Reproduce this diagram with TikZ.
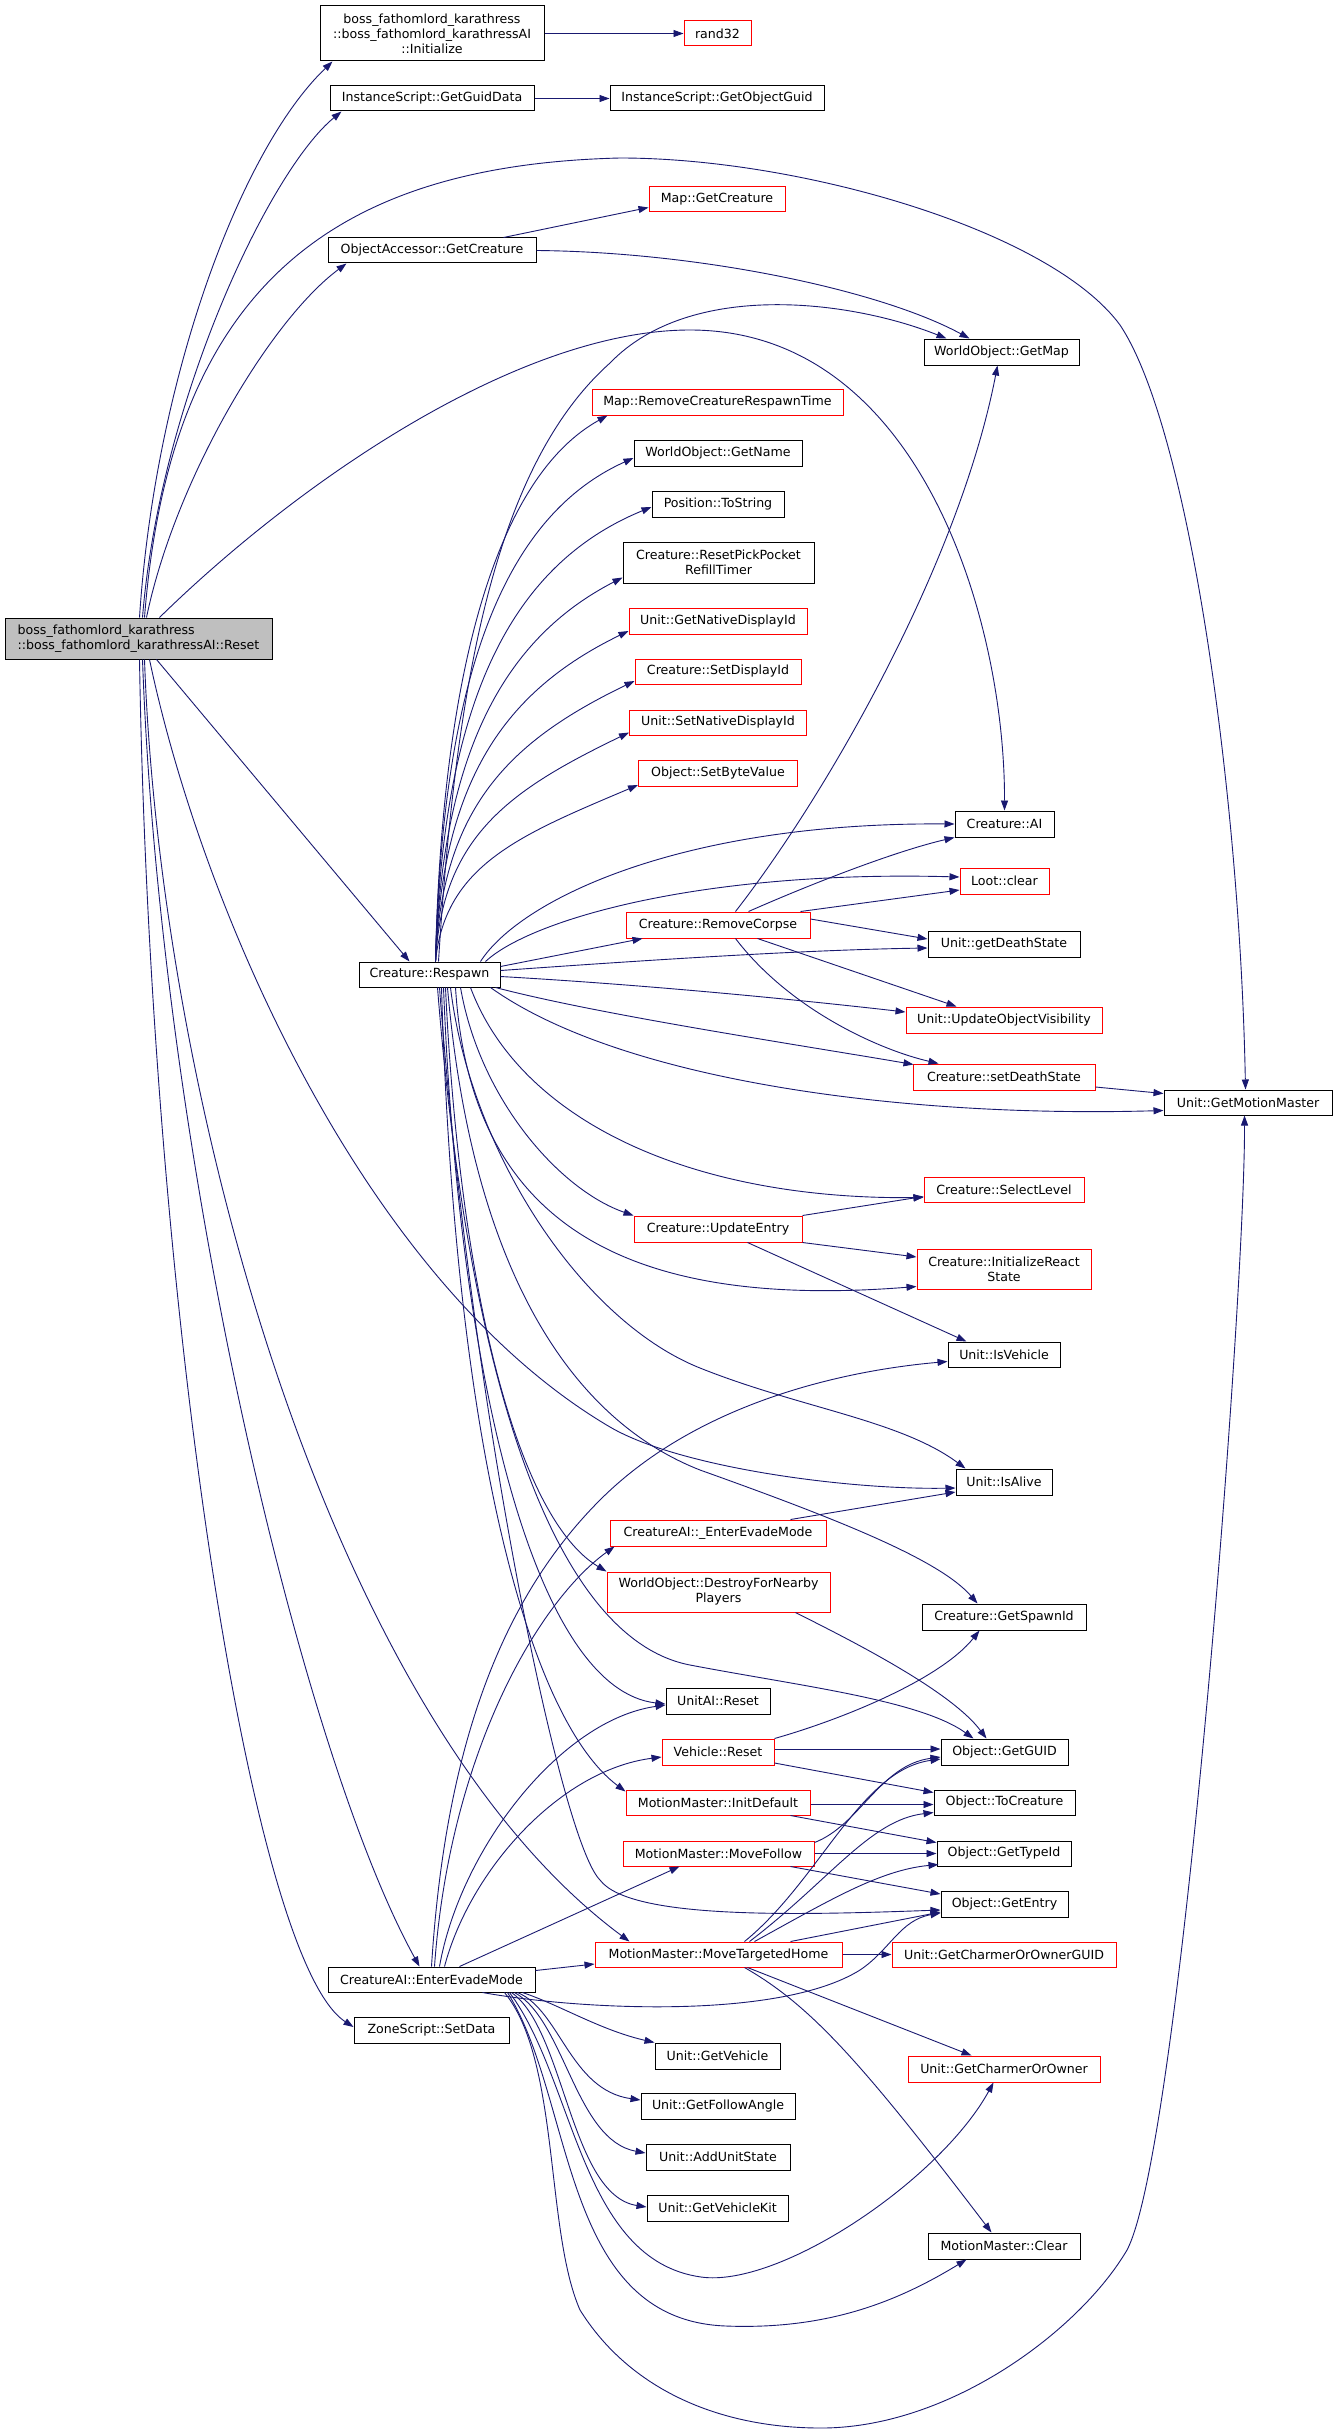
\documentclass[tikz,border=0pt]{standalone}
\usepackage{fontspec}
\newfontfamily\dvs{DejaVu Sans}
\usetikzlibrary{arrows.meta}
\definecolor{edgec}{RGB}{25,25,112}
\definecolor{greyfill}{RGB}{191,191,191}
\newcommand\nf{\dvs\fontsize{12.6pt}{15pt}\selectfont}
\tikzset{
  bx/.style={draw=black, fill=white, line width=1pt, inner sep=1pt, font=\nf, align=center},
  rbx/.style={bx, draw=red},
  gbx/.style={bx, fill=greyfill},
  ed/.style={draw=edgec, line width=0.9pt, -{Triangle[length=10pt,width=7pt]}},
  sz/.style 2 args={minimum width=#1pt, minimum height=#2pt}
}
\begin{document}
\begin{tikzpicture}[x=1pt,y=-1pt]
\fill[white] (0,0) rectangle (1333,2432);
\useasboundingbox (0,0) rectangle (1333,2432);
% nodes
\node[gbx, sz={267}{41}, align=left] (reset) at (138.5,638.5) {boss\_fathomlord\_karathress\\::boss\_fathomlord\_karathressAI::Reset};
\node[bx, sz={224}{55}] (init) at (432,33.5) {boss\_fathomlord\_karathress\\::boss\_fathomlord\_karathressAI\\::Initialize};
\node[rbx, sz={67}{25}] (rand32) at (717.5,33.5) {rand32};
\node[bx, sz={204}{25}] (guiddata) at (432,98.5) {InstanceScript::GetGuidData};
\node[bx, sz={214}{25}] (objguid) at (717,98.5) {InstanceScript::GetObjectGuid};
\node[rbx, sz={136}{25}] (mapgetcreature) at (717,199.5) {Map::GetCreature};
\node[bx, sz={208}{25}] (oagetcreature) at (432,250.5) {ObjectAccessor::GetCreature};
\node[bx, sz={155}{26}] (getmap) at (1001.5,352) {WorldObject::GetMap};
\node[rbx, sz={251}{26}] (removerespawn) at (717.5,402) {Map::RemoveCreatureRespawnTime};
\node[bx, sz={168}{26}] (getname) at (718,453) {WorldObject::GetName};
\node[bx, sz={132}{26}] (tostring) at (718,504) {Position::ToString};
\node[bx, sz={191}{41}] (pickpocket) at (718.5,562.5) {Creature::ResetPickPocket\\RefillTimer};
\node[rbx, sz={178}{26}] (getnative) at (718,621) {Unit::GetNativeDisplayId};
\node[rbx, sz={166}{25}] (setdisplay) at (718,671.5) {Creature::SetDisplayId};
\node[rbx, sz={177}{25}] (setnative) at (718,722.5) {Unit::SetNativeDisplayId};
\node[rbx, sz={159}{26}] (setbyte) at (718,773) {Object::SetByteValue};
\node[bx, sz={99}{26}] (creatureai) at (1004.5,824) {Creature::AI};
\node[rbx, sz={89}{26}] (lootclear) at (1004.5,881) {Loot::clear};
\node[rbx, sz={184}{26}] (removecorpse) at (718,925) {Creature::RemoveCorpse};
\node[bx, sz={152}{26}] (getdeathstate) at (1004,944) {Unit::getDeathState};
\node[bx, sz={141}{25}] (respawn) at (429.5,974.5) {Creature::Respawn};
\node[rbx, sz={196}{26}] (updatevis) at (1004,1020) {Unit::UpdateObjectVisibility};
\node[rbx, sz={182}{26}] (setdeathstate) at (1004,1077) {Creature::setDeathState};
\node[bx, sz={168}{25}] (getmotionmaster) at (1248,1102.5) {Unit::GetMotionMaster};
\node[rbx, sz={160}{25}] (selectlevel) at (1004,1189.5) {Creature::SelectLevel};
\node[rbx, sz={168}{26}] (updateentry) at (718,1229) {Creature::UpdateEntry};
\node[rbx, sz={174}{40}] (initreact) at (1004,1269) {Creature::InitializeReact\\State};
\node[bx, sz={112}{25}] (isvehicle) at (1004,1354.5) {Unit::IsVehicle};
\node[bx, sz={96}{26}] (isalive) at (1004,1482) {Unit::IsAlive};
\node[rbx, sz={216}{26}] (eevade) at (718,1533) {CreatureAI::\_EnterEvadeMode};
\node[rbx, sz={223}{40}] (destroy) at (718.5,1592) {WorldObject::DestroyForNearby\\Players};
\node[bx, sz={164}{26}] (getspawnid) at (1004,1617) {Creature::GetSpawnId};
\node[bx, sz={104}{26}] (unitaireset) at (718,1701) {UnitAI::Reset};
\node[rbx, sz={112}{26}] (vehiclereset) at (718,1752) {Vehicle::Reset};
\node[bx, sz={127}{26}] (getguid) at (1004.5,1752) {Object::GetGUID};
\node[rbx, sz={184}{25}] (initdefault) at (718,1802.5) {MotionMaster::InitDefault};
\node[bx, sz={141}{25}] (tocreature) at (1004.5,1802.5) {Object::ToCreature};
\node[rbx, sz={191}{25}] (movefollow) at (718.5,1853.5) {MotionMaster::MoveFollow};
\node[bx, sz={134}{25}] (gettypeid) at (1004,1853.5) {Object::GetTypeId};
\node[bx, sz={127}{26}] (getentry) at (1004.5,1904) {Object::GetEntry};
\node[rbx, sz={247}{25}] (movetargeted) at (718.5,1954.5) {MotionMaster::MoveTargetedHome};
\node[rbx, sz={224}{25}] (charmerguid) at (1004,1954.5) {Unit::GetCharmerOrOwnerGUID};
\node[bx, sz={207}{25}] (enterevade) at (431.5,1979.5) {CreatureAI::EnterEvadeMode};
\node[bx, sz={155}{26}] (setdata) at (431.5,2030) {ZoneScript::SetData};
\node[bx, sz={125}{26}] (getvehicle) at (717.5,2056) {Unit::GetVehicle};
\node[rbx, sz={192}{26}] (charmerowner) at (1004,2069) {Unit::GetCharmerOrOwner};
\node[bx, sz={154}{26}] (followangle) at (718,2106) {Unit::GetFollowAngle};
\node[bx, sz={144}{26}] (addunitstate) at (718,2157) {Unit::AddUnitState};
\node[bx, sz={141}{26}] (vehiclekit) at (717.5,2208) {Unit::GetVehicleKit};
\node[bx, sz={152}{26}] (clear) at (1004,2246) {MotionMaster::Clear};
% edges: top
\draw[ed] (init.east) -- (rand32.west);
\draw[ed] (guiddata.east) -- (objguid.west);
\draw[ed] ([xshift=176pt]oagetcreature.north west) -- ([yshift=5pt]mapgetcreature.south west);
\draw[ed] (oagetcreature.east) .. controls (700,252) and (880,290) .. ([xshift=46pt]getmap.north west);
% Reset
\draw[ed] ([xshift=135pt]reset.north west) .. controls (155,380) and (240,150) .. ([xshift=13pt]init.south west);
\draw[ed] ([xshift=138pt]reset.north west) .. controls (160,400) and (270,170) .. ([xshift=12pt]guiddata.south west);
\draw[ed] ([xshift=142pt]reset.north west) .. controls (175,480) and (270,320) .. ([xshift=19pt]oagetcreature.south west);
\draw[ed] ([xshift=140pt]reset.north west) .. controls (170,290) and (330,165) .. (620,158) .. controls (800,158) and (1050,230) .. (1120,325) .. controls (1190,430) and (1240,800) .. ([xshift=82pt]getmotionmaster.north west);
\draw[ed] ([xshift=155pt]reset.north west) .. controls (300,480) and (520,330) .. (690,330) .. controls (920,330) and (1005,620) .. (creatureai.north);
\draw[ed] ([xshift=152pt]reset.south west) -- ([xshift=51pt]respawn.north west);
\draw[ed] ([xshift=145pt]reset.south west) .. controls (200,900) and (360,1280) .. (610,1427) .. controls (680,1468) and (850,1490) .. ([yshift=-6pt]isalive.west);
\draw[ed] ([xshift=140pt]reset.south west) .. controls (160,1100) and (330,1720) .. ([xshift=35pt]movetargeted.north west);
\draw[ed] ([xshift=138pt]reset.south west) .. controls (160,1150) and (300,1750) .. ([xshift=92pt]enterevade.north west);
\draw[ed] ([xshift=135pt]reset.south west) .. controls (150,1300) and (250,1960) .. ([yshift=3pt]setdata.west);
% Respawn fan up
\draw[ed] ([xshift=77pt]respawn.north west) .. controls (442,661) and (500,475) .. ([xshift=16pt]removerespawn.south west);
\draw[ed] ([xshift=77pt]respawn.north west) .. controls (442,685) and (500,518) .. ([yshift=-5pt]getname.west);
\draw[ed] ([xshift=77pt]respawn.north west) .. controls (442,712) and (505,567) .. ([yshift=-3pt]tostring.west);
\draw[ed] ([xshift=77pt]respawn.north west) .. controls (442,751) and (505,638) .. ([yshift=-15pt]pickpocket.west);
\draw[ed] ([xshift=77pt]respawn.north west) .. controls (442,780) and (505,691) .. ([yshift=-10pt]getnative.west);
\draw[ed] ([xshift=77pt]respawn.north west) .. controls (442,807) and (510,741) .. ([yshift=-9.5pt]setdisplay.west);
\draw[ed] ([xshift=77pt]respawn.north west) .. controls (442,836) and (510,790) .. ([yshift=-10pt]setnative.west);
\draw[ed] ([xshift=77pt]respawn.north west) .. controls (445,865) and (520,835) .. ([yshift=-12pt]setbyte.west);
\draw[ed] ([xshift=80pt]respawn.north west) .. controls (455,700) and (490,470) .. (610,363) .. controls (690,280) and (850,300) .. ([xshift=23pt]getmap.north west);
% Respawn right side
\draw[ed] ([xshift=-20pt]respawn.north east) .. controls (520,900) and (680,822) .. (creatureai.west);
\draw[ed] ([xshift=-15pt]respawn.north east) .. controls (530,920) and (700,870) .. ([yshift=4pt]lootclear.west);
\draw[ed] ([yshift=8pt]respawn.east) -- ([xshift=17pt]removecorpse.south west);
\draw[ed] ([yshift=4pt]respawn.east) .. controls (650,960) and (800,950) .. ([yshift=-4pt]getdeathstate.west);
\draw[ed] ([yshift=-2pt]respawn.east) .. controls (650,985) and (800,1000) .. ([yshift=8pt]updatevis.west);
\draw[ed] ([xshift=-5pt]respawn.south east) .. controls (600,1015) and (800,1045) .. ([xshift=1pt,yshift=-1pt]setdeathstate.north west);
\draw[ed] ([xshift=-10pt]respawn.south east) .. controls (620,1080) and (900,1118) .. ([yshift=-8pt]getmotionmaster.west);
\draw[ed] ([xshift=-30pt]respawn.south east) .. controls (520,1120) and (690,1200) .. ([yshift=-8pt]selectlevel.west);
\draw[ed] ([xshift=-40pt]respawn.south east) .. controls (480,1100) and (560,1190) .. (updateentry.north west);
\draw[ed] ([xshift=-45pt]respawn.south east) .. controls (470,1220) and (620,1310) .. ([yshift=3pt]initreact.south west);
\draw[ed] ([xshift=-50pt]respawn.south east) .. controls (470,1150) and (580,1320) .. (700,1368) .. controls (800,1408) and (900,1420) .. ([xshift=10pt]isalive.north west);
\draw[ed] ([xshift=-53pt]respawn.south east) .. controls (470,1250) and (560,1415) .. (700,1470) .. controls (840,1520) and (940,1560) .. ([xshift=56pt]getspawnid.north west);
\draw[ed] ([xshift=-55pt]respawn.south east) .. controls (460,1300) and (520,1520) .. (destroy.north west);
\draw[ed] ([xshift=-57pt]respawn.south east) .. controls (460,1400) and (540,1690) .. ([yshift=-3pt]unitaireset.west);
\draw[ed] ([xshift=-59pt]respawn.south east) .. controls (455,1450) and (530,1720) .. ([yshift=-2pt]initdefault.north west);
\draw[ed] ([xshift=-61pt]respawn.south east) .. controls (470,1400) and (560,1840) .. (600,1880) .. controls (630,1920) and (800,1915) .. ([yshift=-6pt]getentry.west);
\draw[ed] ([xshift=-63pt]respawn.south east) .. controls (470,1400) and (560,1640) .. (690,1665) .. controls (800,1686) and (920,1700) .. ([xshift=33pt]getguid.north west);
% RemoveCorpse
\draw[ed] ([xshift=110pt]removecorpse.north west) .. controls (830,790) and (960,560) .. ([xshift=74pt]getmap.south west);
\draw[ed] ([xshift=123pt]removecorpse.north west) .. controls (820,880) and (900,850) .. (creatureai.south west);
\draw[ed] ([xshift=175pt]removecorpse.north west) -- ([yshift=-9pt]lootclear.west);
\draw[ed] ([yshift=6pt]removecorpse.east) -- ([yshift=5pt]getdeathstate.west);
\draw[ed] ([xshift=132pt]removecorpse.south west) -- ([xshift=51pt]updatevis.north west);
\draw[ed] ([xshift=110pt]removecorpse.south west) .. controls (790,1010) and (880,1050) .. ([xshift=26pt]setdeathstate.north west);
\draw[ed] ([yshift=-10pt]setdeathstate.east) -- ([yshift=9pt]getmotionmaster.west);
% UpdateEntry
\draw[ed] (updateentry.north east) -- ([yshift=-7pt]selectlevel.west);
\draw[ed] (updateentry.south east) -- ([yshift=12pt]initreact.west);
\draw[ed] ([xshift=114pt]updateentry.south west) -- ([xshift=19pt]isvehicle.north west);
% misc
\draw[ed] ([xshift=181pt]eevade.north west) -- ([yshift=-10pt]isalive.west);
\draw[ed] ([xshift=189pt]destroy.south west) .. controls (850,1640) and (950,1690) .. ([xshift=46pt]getguid.north west);
\draw[ed] ([yshift=3pt]vehiclereset.east) -- ([yshift=3pt]getguid.west);
\draw[ed] (vehiclereset.north east) .. controls (840,1720) and (940,1680) .. ([xshift=58pt]getspawnid.south west);
\draw[ed] ([yshift=-11pt]vehiclereset.east) -- ([yshift=10pt]tocreature.west);
\draw[ed] ([yshift=-2pt]initdefault.east) -- ([yshift=-2pt]tocreature.west);
\draw[ed] ([xshift=165pt]initdefault.south west) -- ([yshift=11pt]gettypeid.west);
\draw[ed] (movefollow.east) -- (gettypeid.west);
\draw[ed] ([xshift=168pt]movefollow.south west) -- ([yshift=10pt]getentry.west);
\draw[ed] ([yshift=11pt]movefollow.east) .. controls (860,1825) and (880,1765) .. ([yshift=-5pt]getguid.west);
% MoveTargetedHome
\draw[ed] (movetargeted.east) -- (charmerguid.west);
\draw[ed] ([xshift=153pt]movetargeted.south west) -- ([xshift=64pt]charmerowner.north west);
\draw[ed] ([xshift=150pt]movetargeted.south west) .. controls (810,2005) and (860,2060) .. ([xshift=64pt]clear.north west);
\draw[ed] ([xshift=150pt]movetargeted.north west) .. controls (820,1880) and (860,1770) .. ([yshift=-7pt]getguid.west);
\draw[ed] ([xshift=155pt]movetargeted.north west) .. controls (830,1880) and (870,1820) .. ([yshift=-10pt]tocreature.west);
\draw[ed] ([xshift=160pt]movetargeted.north west) .. controls (830,1900) and (880,1870) .. ([xshift=2pt,yshift=2pt]gettypeid.south west);
\draw[ed] ([xshift=196pt]movetargeted.north west) -- ([yshift=-8pt]getentry.west);
% EnterEvadeMode
\draw[ed] ([xshift=107pt]enterevade.north west) .. controls (450,1750) and (540,1600) .. ([xshift=5pt]eevade.south west);
\draw[ed] ([xshift=104pt]enterevade.north west) .. controls (445,1750) and (500,1600) .. (600,1500) .. controls (700,1400) and (850,1370) .. ([yshift=-7pt]isvehicle.west);
\draw[ed] ([xshift=112pt]enterevade.north west) .. controls (460,1850) and (560,1720) .. ([yshift=-4pt]unitaireset.west);
\draw[ed] ([xshift=117pt]enterevade.north west) .. controls (470,1870) and (560,1770) .. ([yshift=-5pt]vehiclereset.west);
\draw[ed] ([xshift=132pt]enterevade.north west) -- ([xshift=57pt]movefollow.south west);
\draw[ed] ([yshift=9pt]enterevade.east) -- ([yshift=-9.5pt]movetargeted.west);
\draw[ed] ([xshift=155pt]enterevade.south west) .. controls (580,2010) and (780,2020) .. (860,1970) .. controls (890,1950) and (900,1920) .. ([yshift=-9pt]getentry.west);
\draw[ed] ([xshift=195pt]enterevade.south west) .. controls (560,2005) and (600,2030) .. (getvehicle.north west);
\draw[ed] ([xshift=190pt]enterevade.south west) .. controls (560,2010) and (570,2090) .. ([yshift=6pt]followangle.west);
\draw[ed] ([xshift=187pt]enterevade.south west) .. controls (565,2020) and (575,2140) .. ([yshift=4pt]addunitstate.west);
\draw[ed] ([xshift=184pt]enterevade.south west) .. controls (565,2030) and (570,2195) .. ([yshift=1pt]vehiclekit.west);
\draw[ed] ([xshift=182pt]enterevade.south west) .. controls (575,2080) and (580,2260) .. (701,2277) .. controls (780,2288) and (940,2180) .. ([xshift=86pt]charmerowner.south west);
\draw[ed] ([xshift=180pt]enterevade.south west) .. controls (575,2100) and (560,2320) .. (726,2326) .. controls (830,2330) and (900,2300) .. ([xshift=39pt]clear.south west);
\draw[ed] ([xshift=177pt]enterevade.south west) .. controls (560,2060) and (545,2230) .. (580,2310) .. controls (630,2390) and (720,2428) .. (821,2428) .. controls (950,2428) and (1080,2330) .. (1127,2250) .. controls (1180,2150) and (1245,1300) .. ([xshift=81pt]getmotionmaster.south west);
\end{tikzpicture}
\end{document}
